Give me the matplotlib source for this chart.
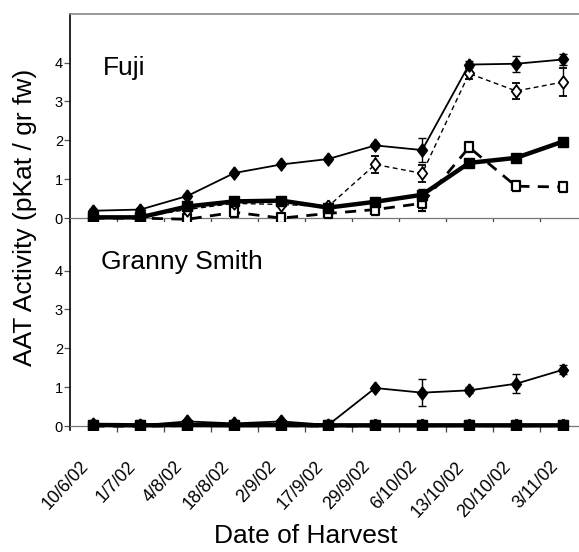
import matplotlib
matplotlib.use("Agg")
import matplotlib.pyplot as plt
import matplotlib.transforms as mtransforms
import numpy as np

plt.rcParams['font.family'] = ['Liberation Sans', 'DejaVu Sans']

dates = ["10/6/02", "1/7/02", "4/8/02", "18/8/02", "2/9/02", "17/9/02",
         "29/9/02", "6/10/02", "13/10/02", "20/10/02", "3/11/02"]

# Fuji
fuji_fd = [0.19, 0.22, 0.57, 1.16, 1.38, 1.52, 1.87, 1.75, 3.95, 3.97, 4.08]
fuji_fd_err = [0.05, 0.05, 0.05, 0.05, 0.05, 0.05, 0.06, 0.3, 0.08, 0.2, 0.15]
fuji_od = [0.03, 0.03, 0.22, 0.38, 0.35, 0.3, 1.38, 1.15, 3.72, 3.27, 3.5]
fuji_od_err = [0.03, 0.03, 0.05, 0.05, 0.05, 0.05, 0.22, 0.22, 0.15, 0.2, 0.35]
fuji_fs = [0.02, 0.02, 0.3, 0.43, 0.45, 0.27, 0.42, 0.6, 1.42, 1.55, 1.97]
fuji_fs_err = [0.03, 0.03, 0.05, 0.05, 0.05, 0.05, 0.05, 0.15, 0.08, 0.05, 0.05]
fuji_os = [0.0, 0.0, -0.03, 0.15, 0.0, 0.12, 0.22, 0.38, 1.82, 0.82, 0.8]
fuji_os_err = [0.02, 0.02, 0.05, 0.05, 0.05, 0.05, 0.05, 0.2, 0.1, 0.05, 0.05]

# Granny Smith
gs_fd = [0.05, 0.02, 0.12, 0.07, 0.12, 0.03, 0.98, 0.86, 0.92, 1.09, 1.45]
gs_fd_err = [0.03, 0.03, 0.05, 0.03, 0.05, 0.03, 0.05, 0.35, 0.08, 0.24, 0.12]
gs_od = [0.01, 0.01, 0.02, 0.02, 0.02, 0.01, 0.02, 0.02, 0.02, 0.02, 0.02]
gs_fs = [0.03, 0.02, 0.03, 0.02, 0.03, 0.02, 0.02, 0.02, 0.02, 0.02, 0.02]
gs_os = [0.0, 0.0, 0.01, 0.01, 0.01, 0.0, 0.01, 0.01, 0.01, 0.01, 0.01]

x = np.arange(len(dates))

tall_diamond = [(0, 0.5), (0.38, 0), (0, -0.5), (-0.38, 0), (0, 0.5)]
tall_rect = [(-0.36, -0.5), (0.36, -0.5), (0.36, 0.5), (-0.36, 0.5), (-0.36, -0.5)]

fig = plt.figure(figsize=(5.79, 5.52), dpi=100)
ax1 = fig.add_axes([70/579, 1-222/552, 1-70/579, 208/552])
ax2 = fig.add_axes([70/579, 1-430/552, 1-70/579, 208/552])

def style(ax, top):
    ax.set_xlim(-0.5, 10.34)
    ax.set_ylim(-0.1, 5.25)
    ax.spines['right'].set_visible(False)
    ax.spines['top'].set_visible(top)
    ax.spines['top'].set_color('#888888')
    ax.spines['top'].set_linewidth(1.2)
    ax.spines['left'].set_color('black')
    ax.spines['left'].set_linewidth(1.2)
    ax.spines['bottom'].set_position(('data', 0))
    ax.spines['bottom'].set_color('#777777')
    ax.spines['bottom'].set_linewidth(0.9)
    ax.set_yticks([0, 1, 2, 3, 4])
    ax.tick_params(axis='y', length=4.5, width=0.9, pad=0.5, labelsize=10.5, color='#555555')
    ax.set_xticks(np.arange(0.5, 10.0, 1.0), minor=True)
    ax.tick_params(axis='x', which='minor', length=4, width=0.9, direction='out', color='#444444')
    ax.tick_params(axis='x', which='major', length=0)

for ax, top in ((ax1, True), (ax2, False)):
    style(ax, top)

def plot4(ax, fs, os_, od, fd, fs_e=None, os_e=None, od_e=None, fd_e=None):
    kw = dict(ecolor='black', elinewidth=1.0, capsize=3, capthick=1.0)
    ax.errorbar(x, os_, yerr=os_e, color='black', lw=2.0, ls=(0, (4, 3)), marker=tall_rect, ms=7.5,
                mfc='white', mec='black', mew=1.6, zorder=3, **kw)
    ax.errorbar(x, od, yerr=od_e, color='black', lw=1.0, ls=(0, (3.5, 2.5)), marker=tall_diamond, ms=9,
                mfc='white', mec='black', mew=1.3, zorder=4, **kw)
    ax.errorbar(x, fs, yerr=fs_e, color='black', lw=3.2, ls='-', marker='s', ms=7.5,
                mfc='black', mec='black', zorder=5, **kw)
    ax.errorbar(x, fd, yerr=fd_e, color='black', lw=1.3, ls='-', marker=tall_diamond, ms=9.5,
                mfc='black', mec='black', zorder=6, **kw)

plot4(ax1, fuji_fs, fuji_os, fuji_od, fuji_fd, fuji_fs_err, fuji_os_err, fuji_od_err, fuji_fd_err)
plot4(ax2, gs_fs, gs_os, gs_od, gs_fd, None, None, None, gs_fd_err)

ax1.set_xticks(x)
ax1.set_xticklabels([])
ax2.set_xticks(x)
ax2.set_xticklabels(dates, rotation=47, ha='right', va='top', fontsize=12.8)
ax2.tick_params(axis='x', which='major', pad=23)
offset = mtransforms.ScaledTranslation(-1.5/100, 0, fig.dpi_scale_trans)
for lbl in ax2.get_xticklabels():
    lbl.set_transform(lbl.get_transform() + offset)

ax1.text(0.21, 3.67, 'Fuji', fontsize=19, va='baseline', ha='left')
ax2.text(0.15, 4.05, 'Granny Smith', fontsize=19, va='baseline', ha='left')

fig.text(25/579, 1-217.5/552, 'AAT Activity (pKat / gr fw)', rotation=90,
         fontsize=19, ha='center', va='center')
fig.text(306/579, 1-536/552, 'Date of Harvest', fontsize=19, ha='center', va='center')

fig.savefig('out.png', dpi=100)
